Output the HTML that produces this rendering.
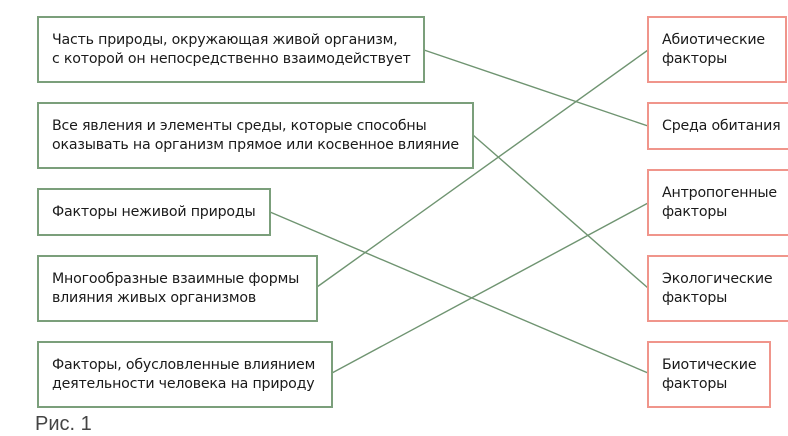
<!DOCTYPE html>
<html><head><meta charset="utf-8"><style>
body{margin:0;width:788px;height:435px;background:#fff;position:relative;overflow:hidden;font-family:"DejaVu Sans","Liberation Sans",sans-serif;}
.b{position:absolute;box-sizing:border-box;border:2px solid #7b9f7b;display:flex;align-items:center;padding-left:13px;font-size:14.2px;line-height:19px;color:#1a1a1a;white-space:nowrap;letter-spacing:-0.2px;}
.r{border-color:#f0958b;}
svg{position:absolute;left:0;top:0}
.cap{position:absolute;left:35px;top:413px;font-family:"Liberation Sans",sans-serif;font-size:20px;color:#444;}
</style></head><body>
<svg width="788" height="435"><g stroke="#6f9471" stroke-width="1.4" fill="none">
<line x1="424" y1="50" x2="648" y2="126"/>
<line x1="473" y1="135" x2="648" y2="288"/>
<line x1="270" y1="212" x2="648" y2="373"/>
<line x1="317" y1="287" x2="648" y2="50"/>
<line x1="332" y1="373" x2="648" y2="203"/>
</g></svg>
<div class="b" style="left:37px;top:16px;width:388px;height:67px">Часть природы, окружающая живой организм,<br>с которой он непосредственно взаимодействует</div>
<div class="b" style="left:37px;top:102px;width:437px;height:67px">Все явления и элементы среды, которые способны<br>оказывать на организм прямое или косвенное влияние</div>
<div class="b" style="left:37px;top:188px;width:234px;height:48px">Факторы неживой природы</div>
<div class="b" style="left:37px;top:255px;width:281px;height:67px">Многообразные взаимные формы<br>влияния живых организмов</div>
<div class="b" style="left:37px;top:341px;width:296px;height:67px">Факторы, обусловленные влиянием<br>деятельности человека на природу</div>
<div class="b r" style="left:647px;top:16px;width:140px;height:67px">Абиотические<br>факторы</div>
<div class="b r" style="left:647px;top:102px;width:145px;height:48px">Среда обитания</div>
<div class="b r" style="left:647px;top:169px;width:145px;height:67px">Антропогенные<br>факторы</div>
<div class="b r" style="left:647px;top:255px;width:145px;height:67px">Экологические<br>факторы</div>
<div class="b r" style="left:647px;top:341px;width:124px;height:67px">Биотические<br>факторы</div>
<div class="cap">Рис. 1</div>
</body></html>
